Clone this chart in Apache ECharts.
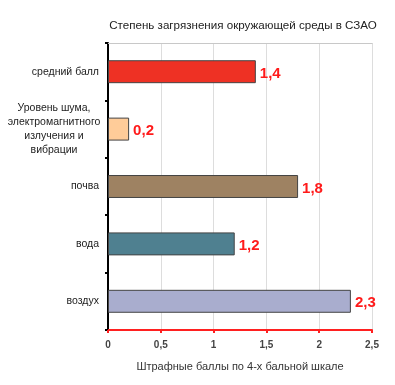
<!DOCTYPE html>
<html><head><meta charset="utf-8">
<script src="https://cdn.jsdelivr.net/npm/echarts@6/dist/echarts.min.js"></script>
<style>html,body{margin:0;padding:0;background:#fff}#c{width:395px;height:385px}</style>
</head><body><div id="c"></div>
<script>
const categories = ['средний балл', 'Уровень шума,\nэлектромагнитного\nизлучения и\nвибрации', 'почва', 'вода', 'воздух'];
const values = [1.4, 0.2, 1.8, 1.2, 2.3];
const barColors = ['#EE3124', '#FFCC99', '#9E8262', '#4F8090', '#A9ADCE'];
const xTicks = [0, 0.5, 1, 1.5, 2, 2.5];
const chart = echarts.init(document.getElementById('c'));
chart.setOption({
  animation: false,
  title: {text: 'Степень загрязнения окружающей среды в СЗАО', left: 238, textAlign: 'center', top: 15,
    textStyle: {fontFamily: 'Liberation Sans, Arial', fontSize: 11.6, fontWeight: 'normal', color: '#222'}},
  grid: {left: 108, right: 23, top: 43, bottom: 55, containLabel: false},
  xAxis: [{
    type: 'value', min: xTicks[0], max: xTicks[xTicks.length-1], interval: 0.5,
    name: 'Штрафные баллы по 4-х бальной шкале', nameLocation: 'middle', nameGap: 31,
    nameTextStyle: {fontFamily: 'Liberation Sans, Arial', fontSize: 11, color: '#333'},
    axisLine: {show: true, lineStyle: {color: '#FF2020', width: 2}},
    axisTick: {show: true, length: 3, lineStyle: {color: '#FF2020', width: 2}},
    axisLabel: {fontFamily: 'Liberation Sans, Arial', fontSize: 10, fontWeight: 'bold', color: '#444', margin: 10,
      formatter: v => String(v).replace('.', ',')},
    splitLine: {show: true, lineStyle: {color: '#DDDDDD', width: 1}}
  }, {
    type: 'value', position: 'top', min: 0, max: 2.5,
    axisLine: {show: true, lineStyle: {color: '#C8C8C8', width: 1}},
    axisTick: {show: false}, axisLabel: {show: false}, splitLine: {show: false}
  }],
  yAxis: {
    type: 'category', data: categories, inverse: true,
    axisLine: {show: true, lineStyle: {color: '#000', width: 2}},
    axisTick: {show: true, length: 3, lineStyle: {color: '#000', width: 2}},
    axisLabel: {fontFamily: 'Liberation Sans, Arial', fontSize: 10.5, color: '#222', align: 'right', margin: 9, lineHeight: 14,
      formatter: v => v.includes('\n') ? v.split('\n').map(l => '{m|' + l + '}').join('\n') : v,
      rich: {m: {width: 90, align: 'center', fontFamily: 'Liberation Sans, Arial', fontSize: 10.5, color: '#222', lineHeight: 14}}}
  },
  series: [{
    type: 'bar', barWidth: '40%',
    data: values.map((v, i) => ({value: v, itemStyle: {color: barColors[i]}})),
    itemStyle: {borderColor: '#444', borderWidth: 1},
    label: {show: true, position: 'right', distance: 4, offset: [0, 2], color: '#FF1A1A', fontWeight: 'bold', fontSize: 15,
      fontFamily: 'Liberation Sans, Arial', formatter: p => String(p.value).replace('.', ',')}
  }]
});
</script></body></html>
